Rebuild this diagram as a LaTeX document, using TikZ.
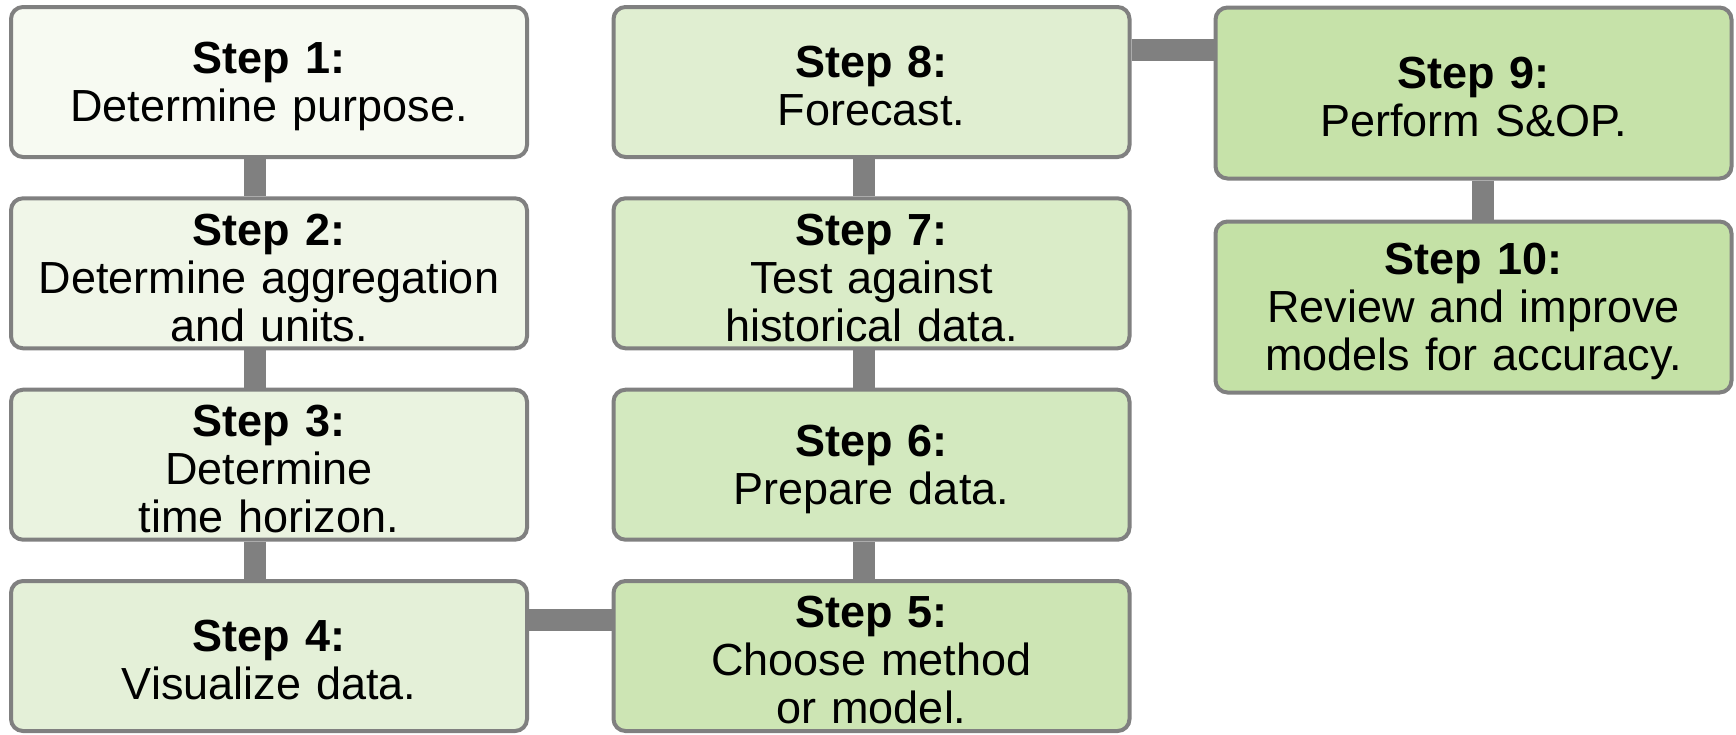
\documentclass[tikz,border=0pt]{standalone}
\usepackage{fontspec}
\setmainfont{Liberation Sans}
\definecolor{edge}{RGB}{128,128,128}
\definecolor{fA}{HTML}{F7FAF2}
\definecolor{fB}{HTML}{F0F6E8}
\definecolor{fC}{HTML}{EAF3E0}
\definecolor{fD}{HTML}{E4F0D8}
\definecolor{fE}{HTML}{CDE5B4}
\definecolor{fF}{HTML}{D3E9BF}
\definecolor{fG}{HTML}{DAECC8}
\definecolor{fH}{HTML}{E0EED1}
\definecolor{fI}{HTML}{C6E2A9}
\definecolor{fJ}{HTML}{C4E1A6}
\tikzset{
  stepbox/.style={draw=edge, line width=4pt, rounded corners=12pt,
    minimum width=516pt, minimum height=150pt, inner sep=0pt,
    text width=505pt, align=center,
    font=\fontsize{45}{48}\selectfont},
  tallbox/.style={stepbox, minimum height=171pt},
  conn/.style={draw=edge, line width=22pt}
}
% bold step title with a strut that lowers the text block slightly
\newcommand{\stepname}[1]{\rule{0pt}{40pt}\textbf{#1}}
\begin{document}
\begin{tikzpicture}[x=1pt,y=-1pt]
  \useasboundingbox[fill=white] (0,0) rectangle (1736,734);

  % first column, top to bottom
  \node[stepbox, fill=fA] (b1) at (269,82)    {\stepname{Step 1:}\\Determine purpose.};
  \node[stepbox, fill=fB] (b2) at (269,273.3) {\stepname{Step 2:}\\Determine aggregation\\and units.};
  \node[stepbox, fill=fC] (b3) at (269,464.7) {\stepname{Step 3:}\\Determine\\time horizon.};
  \node[stepbox, fill=fD] (b4) at (269,656)   {\stepname{Step 4:}\\Visualize data.};

  % second column, bottom to top
  \node[stepbox, fill=fE] (b5) at (871.5,656)   {\stepname{Step 5:}\\Choose method\\or model.};
  \node[stepbox, fill=fF] (b6) at (871.5,464.7) {\stepname{Step 6:}\\Prepare data.};
  \node[stepbox, fill=fG] (b7) at (871.5,273.3) {\stepname{Step 7:}\\Test against\\historical data.};
  \node[stepbox, fill=fH] (b8) at (871.5,82)    {\stepname{Step 8:}\\Forecast.};

  % third column
  \node[tallbox, fill=fI] (b9)  at (1473.5,93)  {\stepname{Step 9:}\\Perform S\&OP.};
  \node[tallbox, fill=fJ] (b10) at (1473.5,307) {\stepname{Step 10:}\\Review and improve\\models for accuracy.};

  % connectors
  \draw[conn] ([xshift=-14pt]b1.south) -- ([xshift=-14pt]b2.north);
  \draw[conn] ([xshift=-14pt]b2.south) -- ([xshift=-14pt]b3.north);
  \draw[conn] ([xshift=-14pt]b3.south) -- ([xshift=-14pt]b4.north);
  \draw[conn] ([yshift=36.5pt]b4.east) -- ([yshift=36.5pt]b4.east -| b5.west);
  \draw[conn] ([xshift=-7.5pt]b5.north) -- ([xshift=-7.5pt]b6.south);
  \draw[conn] ([xshift=-7.5pt]b6.north) -- ([xshift=-7.5pt]b7.south);
  \draw[conn] ([xshift=-7.5pt]b7.north) -- ([xshift=-7.5pt]b8.south);
  \draw[conn] ([yshift=32.5pt]b8.east) -- ([yshift=32.5pt]b8.east -| b9.west);
  \draw[conn] ([xshift=9.5pt]b9.south) -- ([xshift=9.5pt]b10.north);
\end{tikzpicture}
\end{document}
